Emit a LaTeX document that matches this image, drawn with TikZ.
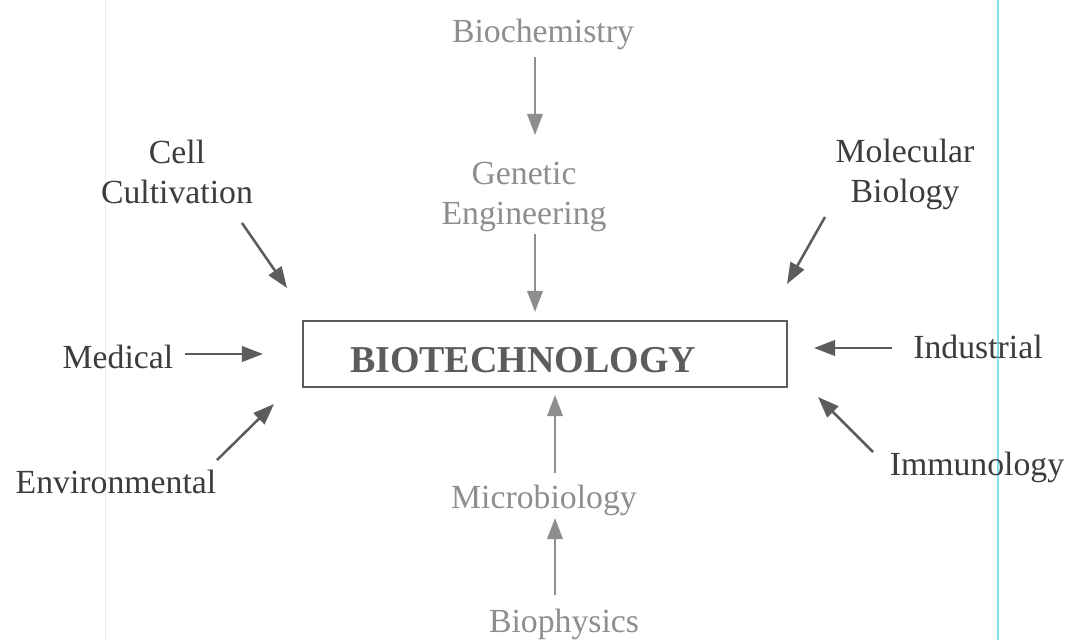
\documentclass[tikz,border=0pt]{standalone}
\usepackage{fontspec}
\setmainfont{Liberation Serif}
\usetikzlibrary{arrows.meta}
\definecolor{lightgrey}{HTML}{8E8E8E}
\definecolor{darkgrey}{HTML}{3C3C3C}
\definecolor{midgrey}{HTML}{5C5C5C}
\definecolor{scanline}{HTML}{80E0EC}

\begin{document}
\begin{tikzpicture}[x=0.025cm, y=-0.025cm,
    field/.style={text=darkgrey, font=\fontsize{24}{28}\selectfont, inner sep=0pt, align=center, anchor=base},
    core/.style={field, text=lightgrey},
    arr/.style={draw=midgrey, line width=1.8pt, -{Triangle[length=15pt,width=11pt]}},
    corearr/.style={arr, draw=lightgrey, line width=1.5pt}]
    \useasboundingbox (0,0) rectangle (1072,640);
    \fill[white] (0,0) rectangle (1072,640);

    % scan marks
    \draw[scanline, line width=1.2pt] (998,0) -- (998,640);
    \draw[black!8, line width=0.6pt] (105,0) -- (105,640);

    \node[draw=midgrey, line width=1.2pt, minimum width=12.1cm, minimum height=1.65cm] (box) at (545,354) {};
    \node[text=midgrey, font=\fontsize{27}{30}\selectfont\bfseries, inner sep=0pt, anchor=base] (biotech) at (523,372) {BIOTECHNOLOGY};

    \node[core] (bioc) at (543,42) {Biochemistry};
    \node[core] (genetic) at (524,224) {Genetic\\Engineering};
    \node[core] (micro) at (544,508) {Microbiology};
    \node[core] (biophy) at (564,632) {Biophysics};

    \node[field] (cell) at (177,203) {Cell\\Cultivation};
    \node[field] (molec) at (905,202) {Molecular\\Biology};
    \node[field] (medical) at (118,368) {Medical};
    \node[field] (environ) at (116,493) {Environmental};
    \node[field] (indust) at (978,358) {Industrial};
    \node[field] (immuno) at (977,475) {Immunology};

    % arrow ends
    \coordinate (bioc-out) at (535,57);
    \coordinate (gen-in) at (535,135);
    \coordinate (gen-out) at (535,234);
    \coordinate (box-n) at (535,312);
    \coordinate (micro-out) at (555,473);
    \coordinate (box-s) at (555,395);
    \coordinate (biophy-out) at (555,595);
    \coordinate (micro-in) at (555,518);
    \coordinate (cell-out) at (242,223);
    \coordinate (box-nw) at (287,288);
    \coordinate (medical-out) at (185,354);
    \coordinate (box-w) at (263,354);
    \coordinate (environ-out) at (217,460);
    \coordinate (box-sw) at (274,404);
    \coordinate (molec-out) at (825,217);
    \coordinate (box-ne) at (787,284);
    \coordinate (indust-out) at (892,348);
    \coordinate (box-e) at (814,348);
    \coordinate (immuno-out) at (873,452);
    \coordinate (box-se) at (818,397);

    \foreach \a/\b in {bioc-out/gen-in, gen-out/box-n, micro-out/box-s, biophy-out/micro-in}
        \draw[corearr] (\a) -- (\b);
    \foreach \a/\b in {cell-out/box-nw, medical-out/box-w, environ-out/box-sw, molec-out/box-ne, indust-out/box-e, immuno-out/box-se}
        \draw[arr] (\a) -- (\b);
\end{tikzpicture}
\end{document}
